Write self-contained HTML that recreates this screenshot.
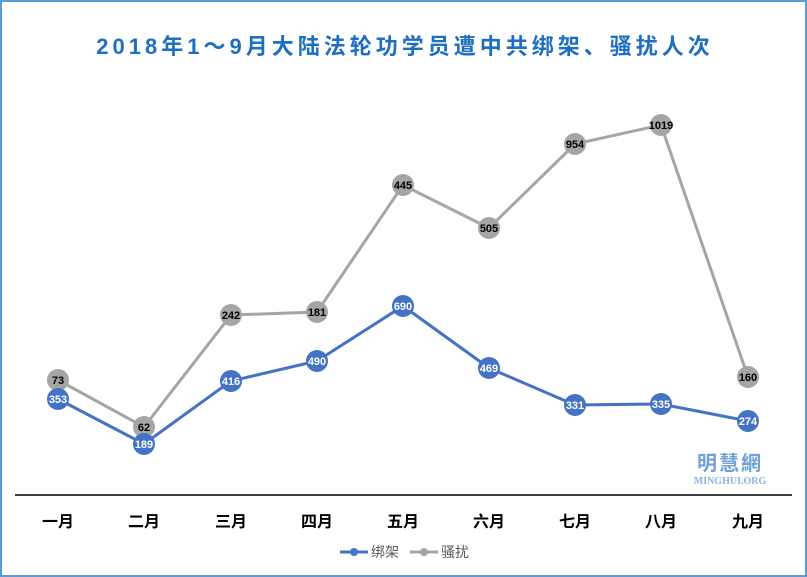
<!DOCTYPE html><html><head><meta charset="utf-8"><style>body{margin:0;background:#fff}svg{display:block}</style></head><body>
<svg width="807" height="577" xmlns="http://www.w3.org/2000/svg" font-family="Liberation Sans, Noto Sans CJK SC, sans-serif">
<rect x="1" y="1" width="805" height="575" fill="#fff" stroke="#5b9bd5" stroke-width="2"/>
<text x="405" y="54" text-anchor="middle" font-size="22" font-weight="bold" fill="#1f6fc0" letter-spacing="4">2018年1～9月大陆法轮功学员遭中共绑架、骚扰人次</text>
<line x1="15" y1="495" x2="792" y2="495" stroke="#404040" stroke-width="2"/>
<g font-size="16" font-weight="bold" fill="#000" text-anchor="middle">
<text x="58" y="527">一月</text><text x="144" y="527">二月</text><text x="231" y="527">三月</text><text x="317" y="527">四月</text><text x="403" y="527">五月</text><text x="489" y="527">六月</text><text x="575" y="527">七月</text><text x="661" y="527">八月</text><text x="748" y="527">九月</text></g>
<polyline fill="none" stroke="#a5a5a5" stroke-width="3" points="58,380 144,427 231,315 317,312 403,185 489,228 575,144 661,125 748,377"/>
<polyline fill="none" stroke="#4472c4" stroke-width="3" points="58,399 144,444 231,381 317,361 403,306 489,368 575,405 661,404 748,421"/>
<g fill="#a5a5a5"><circle cx="58" cy="380" r="11"/><circle cx="144" cy="427" r="11"/><circle cx="231" cy="315" r="11"/><circle cx="317" cy="312" r="11"/><circle cx="403" cy="185" r="11"/><circle cx="489" cy="228" r="11"/><circle cx="575" cy="144" r="11"/><circle cx="661" cy="125" r="11"/><circle cx="748" cy="377" r="11"/></g>
<g font-size="11" font-weight="bold" fill="#000" text-anchor="middle">
<text x="58" y="384">73</text><text x="144" y="431">62</text><text x="231" y="319">242</text><text x="317" y="316">181</text><text x="403" y="189">445</text><text x="489" y="232">505</text><text x="575" y="148">954</text><text x="661" y="129">1019</text><text x="748" y="381">160</text></g>
<g fill="#4472c4"><circle cx="58" cy="399" r="11"/><circle cx="144" cy="444" r="11"/><circle cx="231" cy="381" r="11"/><circle cx="317" cy="361" r="11"/><circle cx="403" cy="306" r="11"/><circle cx="489" cy="368" r="11"/><circle cx="575" cy="405" r="11"/><circle cx="661" cy="404" r="11"/><circle cx="748" cy="421" r="11"/></g>
<g font-size="11" font-weight="bold" fill="#fff" text-anchor="middle">
<text x="58" y="403">353</text><text x="144" y="448">189</text><text x="231" y="385">416</text><text x="317" y="365">490</text><text x="403" y="310">690</text><text x="489" y="372">469</text><text x="575" y="409">331</text><text x="661" y="408">335</text><text x="748" y="425">274</text></g>
<text x="730" y="470" text-anchor="middle" font-size="20" font-weight="bold" fill="#6fa0d8" letter-spacing="2">明慧網</text>
<text x="730" y="484" text-anchor="middle" font-size="10" font-family="Liberation Serif, serif" font-weight="bold" fill="#8ab4e0">MINGHUI.ORG</text>
<line x1="340" y1="552" x2="368" y2="552" stroke="#4472c4" stroke-width="3"/><circle cx="354" cy="552" r="4" fill="#4472c4"/>
<text x="371" y="557" font-size="14" fill="#595959">绑架</text>
<line x1="410" y1="552" x2="438" y2="552" stroke="#a5a5a5" stroke-width="3"/><circle cx="424" cy="552" r="4" fill="#a5a5a5"/>
<text x="441" y="557" font-size="14" fill="#595959">骚扰</text>
</svg></body></html>
